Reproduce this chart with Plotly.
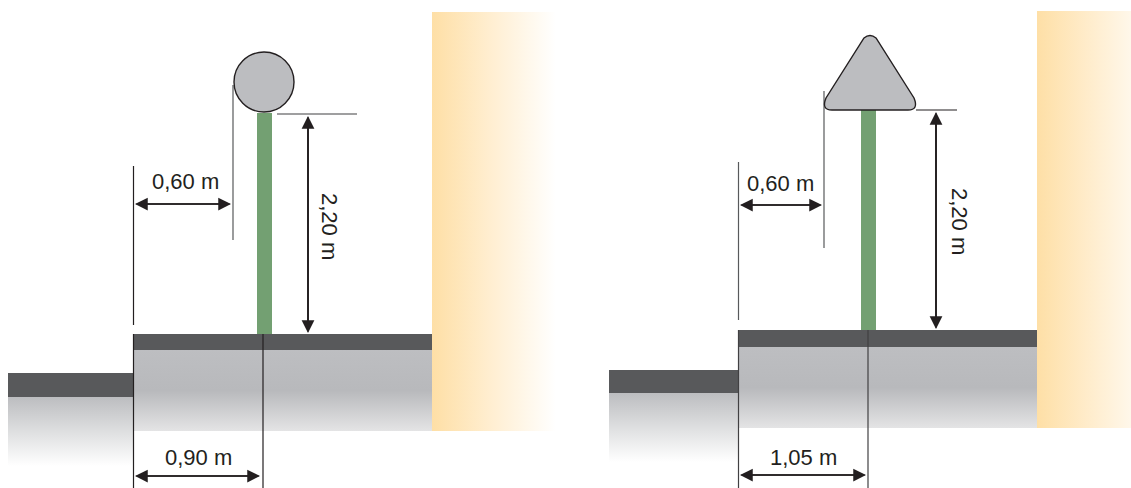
import plotly.graph_objects as go

FONT = "Liberation Sans, Arial, sans-serif"
DARK = "#58595b"
GREY = "#bcbdc0"
POLE = "#73a072"
INK = "#231f20"

# Panel geometry, in picture pixels
road_low_x = [(8, 133), (609, 738)]
road_low_dark_y = [(373, 397), (370, 393)]
road_low_fade_end = [466, 462]
kerb_x = [(133, 432), (738, 1037)]
kerb_dark_y = [(334, 350), (330, 347)]
kerb_bottom = [431, 428]
wall_x = [(432, 556), (1037, 1161)]
wall_top = [12, 11]
pole_x = [(257, 272), (861, 876)]
pole_top = [113, 108]

# Thin guide lines: x0, y0, x1, y1, colour
guides = [
    (133.5, 166, 133.5, 325, INK), (133.5, 334, 133.5, 488, INK),
    (263, 334, 263, 488, INK), (233, 85, 233, 240, "#58595b"),
    (277, 114, 357, 114, "#414042"),
    (738.5, 162, 738.5, 320, "#58595b"), (738.5, 330, 738.5, 488, "#414042"),
    (868, 330, 868, 488, "#414042"), (824, 91, 824, 248, "#58595b"),
    (916, 110, 957, 110, INK),
]
# Double arrows: x0, y0, x1, y1
arrows = [
    (135, 204, 231, 204), (135, 476, 260, 476), (308, 116, 308, 333),
    (740, 205, 822, 205), (740, 475, 866, 475), (936, 112, 936, 329),
]
# Labels: text, x, y, rotation
labels = [
    ("0,60 m", 185, 181, 0), ("0,90 m", 198, 457, 0), ("2,20 m", 330, 226, 90),
    ("0,60 m", 780, 183, 0), ("1,05 m", 803, 457, 0), ("2,20 m", 960, 221, 90),
]
circle_sign = (234, 52, 294, 112)
triangle_sign = "M 864,38 Q 870,33 876,38 L 914,98 Q 919,110 908,110 L 832,110 Q 821,110 826,98 Z"

fig = go.Figure()


def box(x0, x1, y0, y1, color=None, grad=None):
    kw = dict(x=[x0, x1, x1, x0, x0], y=[y0, y0, y1, y1, y0], mode="none",
              fill="toself", hoverinfo="skip", showlegend=False)
    if grad:
        kw["fillgradient"] = grad
    else:
        kw["fillcolor"] = color
    fig.add_trace(go.Scatter(**kw))


for i in range(2):
    # wall
    wx = wall_x[i]
    box(wx[0], min(wx[1], 1131), wall_top[i], kerb_bottom[i], grad=dict(
        type="horizontal", start=wx[0], stop=wx[1],
        colorscale=[[0, "#fedfa6"], [0.5, "#ffefd3"], [1, "#ffffff"]]))
    # lower road
    lx = road_low_x[i]
    ly = road_low_dark_y[i]
    box(lx[0], lx[1], ly[1], road_low_fade_end[i], grad=dict(
        type="vertical", start=ly[1], stop=road_low_fade_end[i],
        colorscale=[[0, "#bcbdc0"], [0.5, "#dedfe0"], [1, "#ffffff"]]))
    box(lx[0], lx[1], ly[0], ly[1], DARK)
    # kerb
    kx = kerb_x[i]
    ky = kerb_dark_y[i]
    box(kx[0], kx[1], ky[1], kerb_bottom[i], grad=dict(
        type="vertical", start=ky[1], stop=kerb_bottom[i],
        colorscale=[[0, "#bdbec1"], [0.5, "#b8b9bc"], [1, "#e4e4e5"]]))
    box(kx[0], kx[1], ky[0], ky[1], DARK)
    # pole
    box(pole_x[i][0], pole_x[i][1], pole_top[i], ky[0], POLE)

for x0, y0, x1, y1, c in guides:
    fig.add_trace(go.Scatter(x=[x0, x1], y=[y0, y1], mode="lines",
                             line=dict(color=c, width=1.2),
                             hoverinfo="skip", showlegend=False))

for x0, y0, x1, y1 in arrows:
    for ax, ay, bx, by in ((x0, y0, x1, y1), (x1, y1, x0, y0)):
        fig.add_annotation(x=ax, y=ay, ax=bx, ay=by, xref="x", yref="y",
                           axref="x", ayref="y", text="", showarrow=True,
                           arrowhead=2, arrowsize=1.5, arrowwidth=1.7,
                           arrowcolor=INK)

fig.add_shape(type="circle", x0=circle_sign[0], y0=circle_sign[1],
              x1=circle_sign[2], y1=circle_sign[3],
              fillcolor=GREY, line=dict(color=INK, width=1.4))
fig.add_shape(type="path", path=triangle_sign,
              fillcolor=GREY, line=dict(color=INK, width=1.4))

for text, x, y, rot in labels:
    fig.add_annotation(x=x, y=y, text=text, showarrow=False, textangle=rot,
                       font=dict(family=FONT, size=22, color=INK))

fig.update_layout(
    width=1131, height=488, margin=dict(l=0, r=0, t=0, b=0),
    paper_bgcolor="white", plot_bgcolor="white", showlegend=False,
    xaxis=dict(range=[0, 1131], visible=False, fixedrange=True),
    yaxis=dict(range=[488, 0], visible=False, fixedrange=True),
)
fig.write_html("out.html", config=dict(displayModeBar=False),
               post_script="document.body.style.margin='0';document.body.style.overflow='hidden';")
